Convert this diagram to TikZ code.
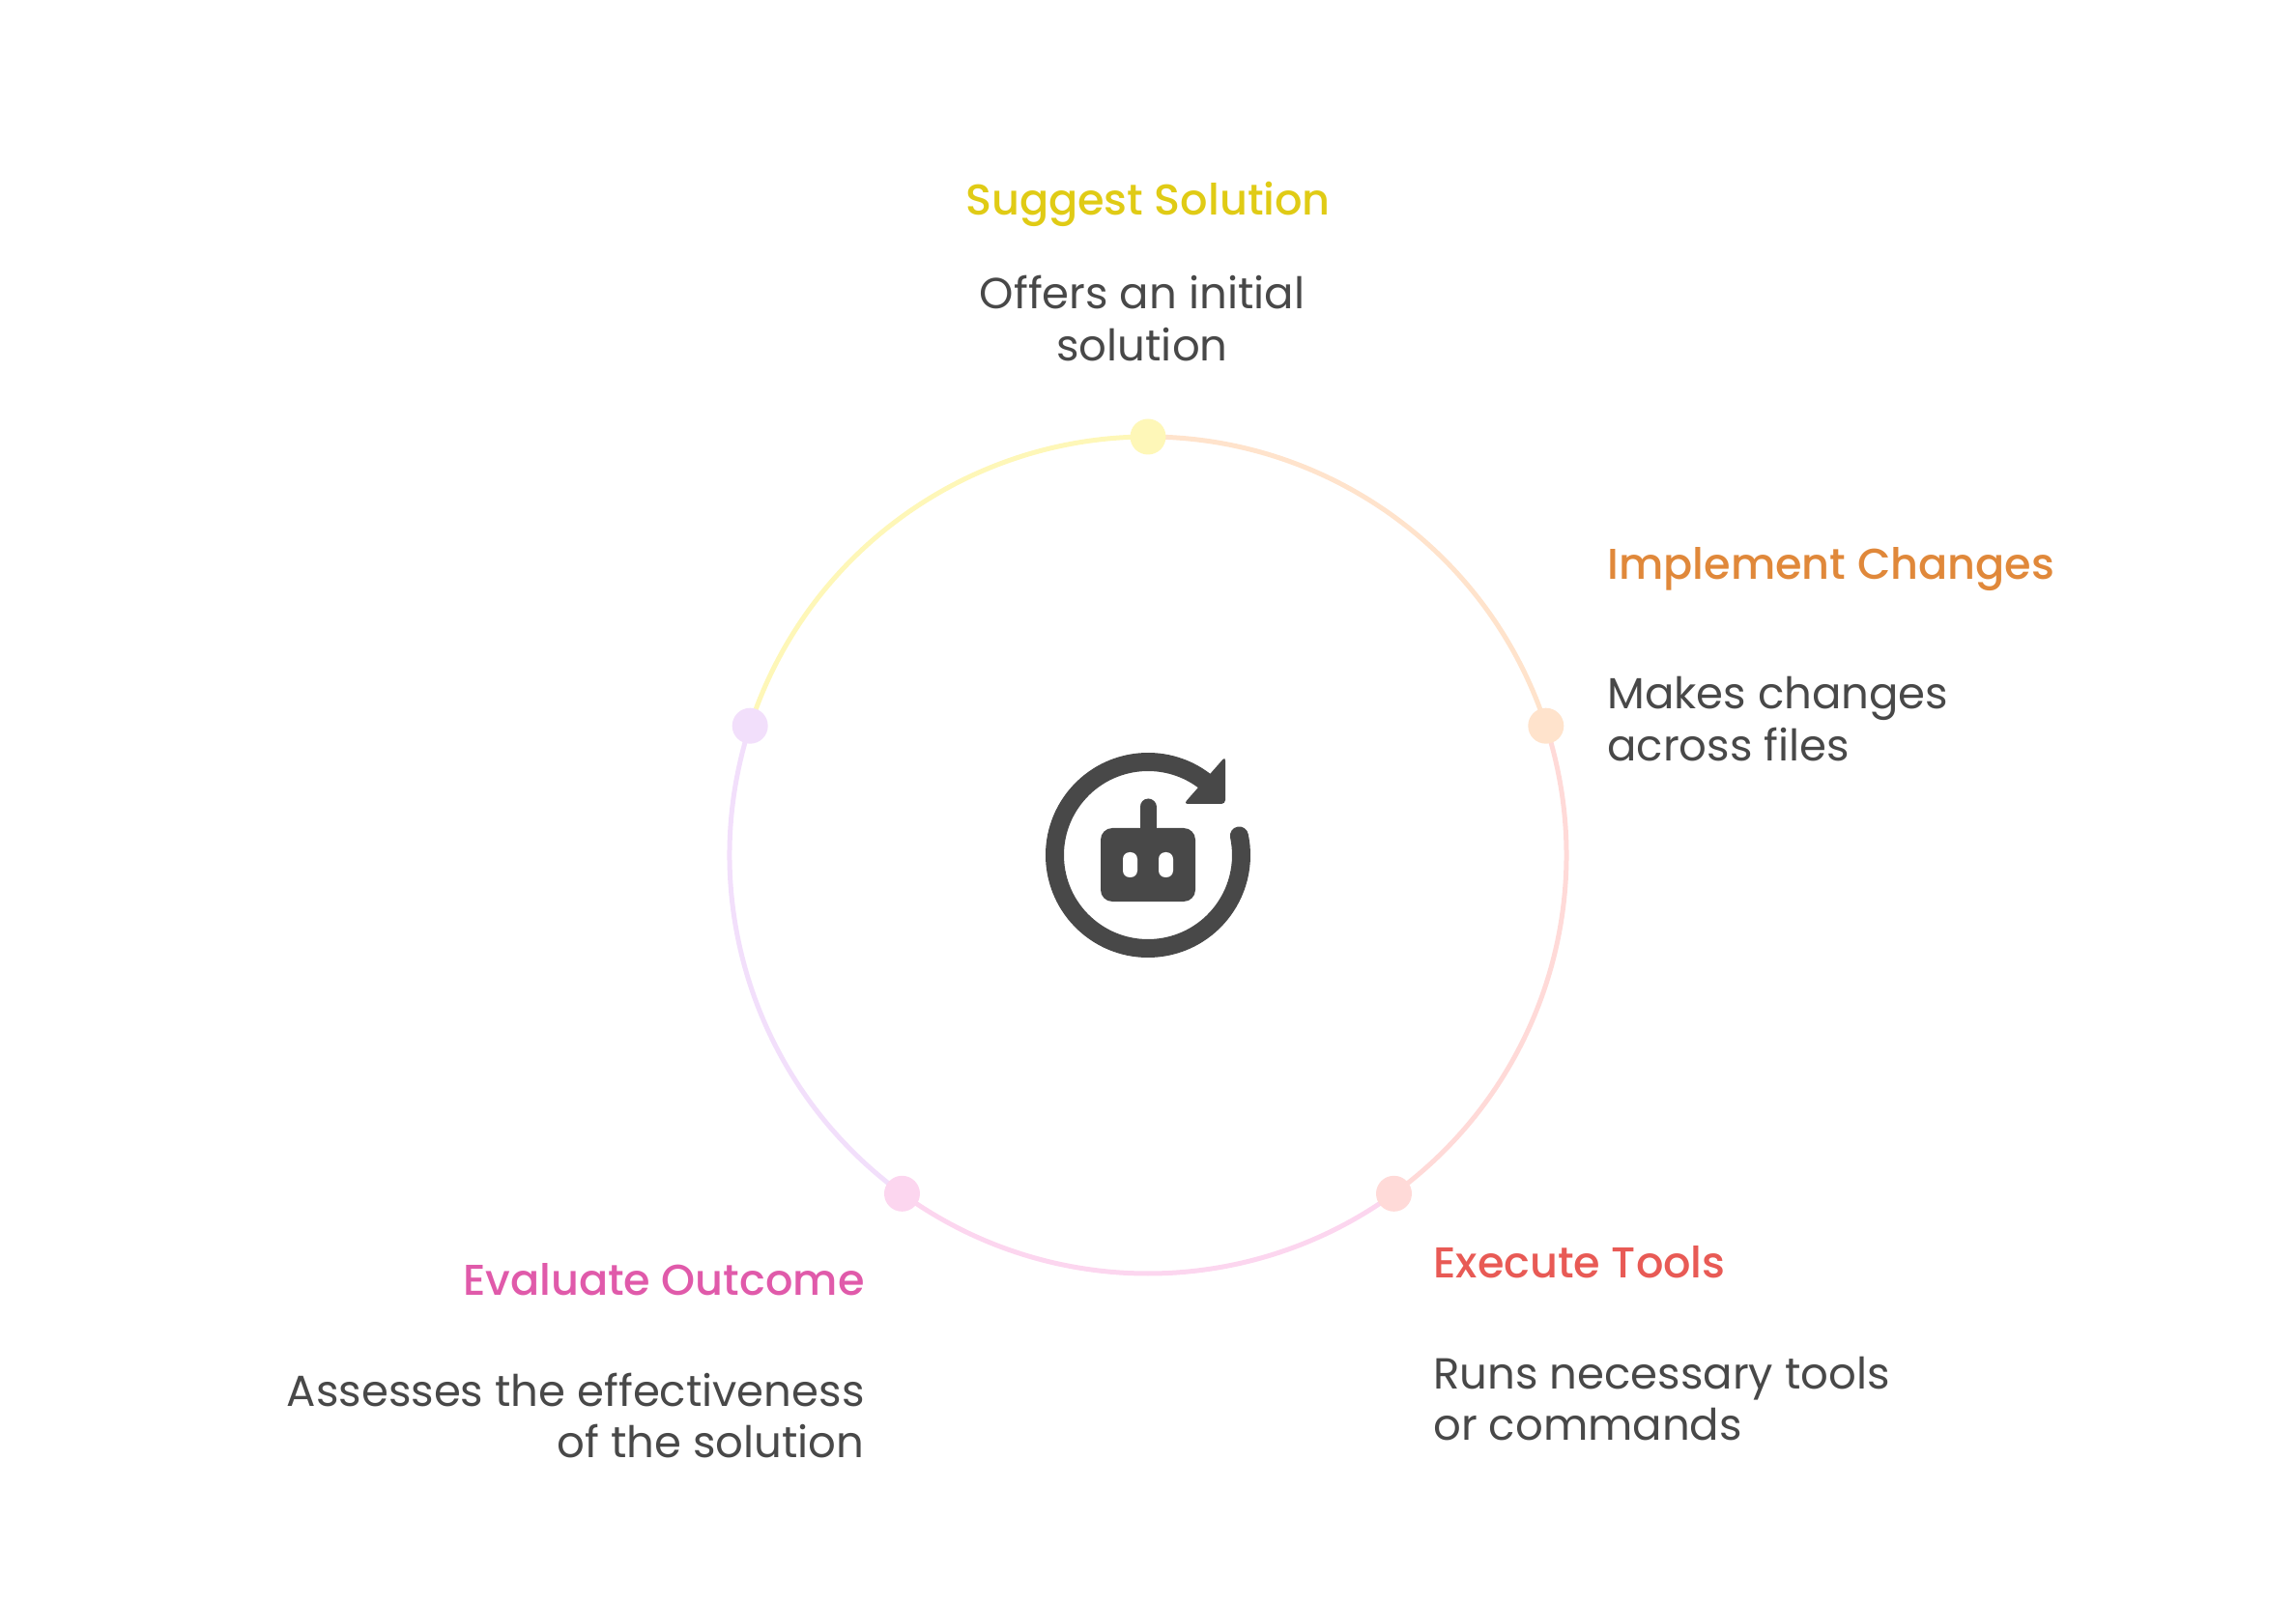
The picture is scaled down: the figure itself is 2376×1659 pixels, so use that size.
\documentclass[tikz,border=0pt]{standalone}
\usepackage{fontspec}
\setmainfont{Poppins}
\newfontfamily\titlefont{Poppins Medium}
\definecolor{ink}{HTML}{484848}
\definecolor{cyel}{HTML}{FEF7B8}
\definecolor{cpeach}{HTML}{FFE3CC}
\definecolor{cred}{HTML}{FFDAD8}
\definecolor{cpink}{HTML}{FCD6EF}
\definecolor{clav}{HTML}{F2DFFB}
\definecolor{tyel}{HTML}{E0CB15}
\definecolor{torange}{HTML}{E0883A}
\definecolor{tred}{HTML}{E85A55}
\definecolor{tpink}{HTML}{E05AAA}
\tikzset{
  ringarc/.style={line width=2.5pt},
  stepdot/.style={circle, inner sep=0pt, minimum size=18.5pt},
  steptitle/.style={inner sep=0pt, font=\titlefont\fontsize{22.3}{27}\selectfont},
  stepbody/.style={inner sep=0pt, text=ink, font=\fontsize{22.5}{26.75}\selectfont},
}
\begin{document}
\begin{tikzpicture}[x=0.5pt,y=0.5pt]
\useasboundingbox (-1188,-774) rectangle (1188,885);
% ring arcs
\draw[ringarc, cpeach] (90:433) arc[start angle=90, end angle=18, radius=433];
\draw[ringarc, cred] (18:433) arc[start angle=18, end angle=-54, radius=433];
\draw[ringarc, cpink] (-54:433) arc[start angle=-54, end angle=-126, radius=433];
\draw[ringarc, clav] (-126:433) arc[start angle=-126, end angle=-198, radius=433];
\draw[ringarc, cyel] (162:433) arc[start angle=162, end angle=90, radius=433];
% dots
\node[stepdot, fill=cyel] (d1) at (90:433) {};
\node[stepdot, fill=cpeach] (d2) at (18:433) {};
\node[stepdot, fill=cred] (d3) at (-54:433) {};
\node[stepdot, fill=cpink] (d4) at (-126:433) {};
\node[stepdot, fill=clav] (d5) at (162:433) {};
% icon
\draw[ink, line width=9.5pt, line cap=round] (50:96.5) arc[start angle=50, end angle=372, radius=96.5];
\fill[ink, rounded corners=2pt] (80,102) -- (80,53) -- (37,53) -- cycle;
\draw[ink, line width=8.5pt, line cap=round] (0,28) -- (0,50);
\fill[ink, rounded corners=6pt] (-49,-48) rectangle (49,28);
\fill[white, rounded corners=3.5pt] (-26,-23) rectangle (-11,3);
\fill[white, rounded corners=3.5pt] (11,-23) rectangle (26,3);
% texts (body anchors sit on the last line's baseline)
\node[steptitle, text=tyel, anchor=base] (t1) at (0,662) {Suggest Solution};
\node[stepbody, align=center, anchor=base] (b1) at (-6,511.5) {Offers an initial\\solution};
\node[steptitle, text=torange, anchor=base west] (t2) at (475,285) {Implement Changes};
\node[stepbody, align=left, anchor=base west] (b2) at (475,97.5) {Makes changes\\across files};
\node[steptitle, text=tred, anchor=base west] (t3) at (295,-437) {Execute Tools};
\node[stepbody, align=left, anchor=base west] (b3) at (295,-605.5) {Runs necessary tools\\or commands};
\node[steptitle, text=tpink, anchor=base east] (t4) at (-293,-455) {Evaluate Outcome};
\node[stepbody, align=right, anchor=base east] (b4) at (-293,-623.5) {Assesses the effectiveness\\of the solution};
\end{tikzpicture}
\end{document}
